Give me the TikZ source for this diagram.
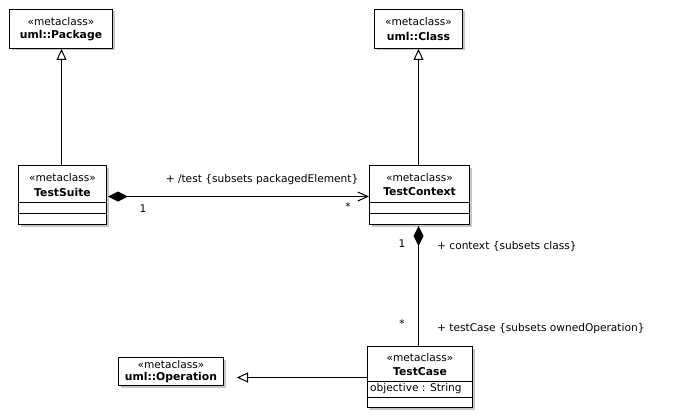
\documentclass[tikz,border=0pt]{standalone}
\usepackage{fontspec}
\setmainfont{DejaVu Sans}
\usetikzlibrary{arrows.meta,calc}
\tikzset{
  umlbox/.style={draw=black, line width=1pt, fill=white, inner sep=0pt, anchor=center},
  shadowbox/.style={fill=black!22, draw=none},
  txt/.style={inner sep=0pt, font=\fontsize{10.6}{12}\selectfont},
  stereo/.style={txt},
  cname/.style={inner sep=0pt, font=\fontsize{10.8}{12}\selectfont\bfseries},
  link/.style={draw=black, line width=1pt},
  gen/.style={link, -{Triangle[open, length=11pt, width=10pt, fill=white]}},
  comp/.style={link, {Diamond[length=20pt, width=10pt]}-{Straight Barb[length=10pt, width=9pt, line width=1pt]}},
  compv/.style={link, {Diamond[length=20pt, width=10pt]}-}
}
\newcommand{\shadowrect}[4]{\fill[shadowbox] (#1+2,#2+2) rectangle (#3+2,#4+2);}
\begin{document}
\begin{tikzpicture}[x=1pt, y=-1pt]
\useasboundingbox (0,0) rectangle (675,420);
\fill[white] (0,0) rectangle (675,420);

% shadows
\shadowrect{9.5}{9.5}{112.5}{48.5}
\shadowrect{374.5}{9.5}{462.5}{48.5}
\shadowrect{18.5}{165.5}{106.5}{224.5}
\shadowrect{369.5}{165.5}{469.5}{224.5}
\shadowrect{367.5}{346.5}{472.5}{407.5}
\shadowrect{118.5}{357.5}{223.5}{385.5}

% boxes
\node[umlbox, minimum width=103pt, minimum height=39pt] (pkg) at (61,29) {};
\node[umlbox, minimum width=88pt, minimum height=39pt] (cls) at (418.5,29) {};
\node[umlbox, minimum width=88pt, minimum height=59pt] (tsuite) at (62.5,195) {};
\node[umlbox, minimum width=100pt, minimum height=59pt] (tctx) at (419.5,195) {};
\node[umlbox, minimum width=105pt, minimum height=61pt] (tcase) at (420,377) {};
\node[umlbox, minimum width=105pt, minimum height=28pt] (op) at (171,371.5) {};

% compartments
\draw[link] (18.5,202.5) -- (106.5,202.5) (18.5,213.5) -- (106.5,213.5);
\draw[link] (369.5,202.5) -- (469.5,202.5) (369.5,213.5) -- (469.5,213.5);
\draw[link] (367.5,381.5) -- (472.5,381.5) (367.5,397.5) -- (472.5,397.5);

% texts
\node[stereo] (pkgS) at (61,22) {«metaclass»};
\node[cname] (pkgN) at (61,36) {uml::Package};
\node[stereo] (clsS) at (418.5,22) {«metaclass»};
\node[cname] (clsN) at (418.5,36) {uml::Class};
\node[stereo] (tsS) at (62.5,178) {«metaclass»};
\node[cname] (tsN) at (62.5,192) {TestSuite};
\node[stereo] (tcS) at (419.5,178) {«metaclass»};
\node[cname] (tcN) at (419.5,192) {TestContext};
\node[stereo] (caS) at (420,358) {«metaclass»};
\node[cname] (caN) at (420,371.5) {TestCase};
\node[txt, anchor=west] (caA) at (370,389) {objective : String};
\node[stereo] (opS) at (171,365) {«metaclass»};
\node[cname] (opN) at (171,378) {uml::Operation};

% generalizations
\coordinate (g1) at ($(pkg.south)+(0.5,0)$);
\draw[gen] (tsuite.north -| g1) -- (g1);
\draw[gen] (tctx.north -| cls.south) -- (cls.south);
\coordinate (g3) at ($(tcase.west)+(0,0.5)$);
\draw[gen, shorten >=13pt] (g3) -- (g3 -| op.east);

% compositions
\coordinate (a1) at ($(tsuite.east)+(1,1.5)$);
\coordinate (a2) at (tctx.west |- a1);
\draw[comp] (a1) -- (a2);
\coordinate (b1) at ($(tctx.south)+(-1,1)$);
\coordinate (b2) at (tcase.north -| b1);
\draw[compv] (b1) -- (b2);

% association labels
\node[txt] (l1) at (262,180) {+ /test \{subsets packagedElement\}};
\node[txt] (m1) at (143,209) {1};
\node[txt] (m2) at (348,207) {*};
\node[txt] (m3) at (402,244) {1};
\node[txt, anchor=west] (l2) at (437,246) {+ context \{subsets class\}};
\node[txt] (m4) at (402,324) {*};
\node[txt, anchor=west] (l3) at (437,329) {+ testCase \{subsets ownedOperation\}};
\end{tikzpicture}
\end{document}
